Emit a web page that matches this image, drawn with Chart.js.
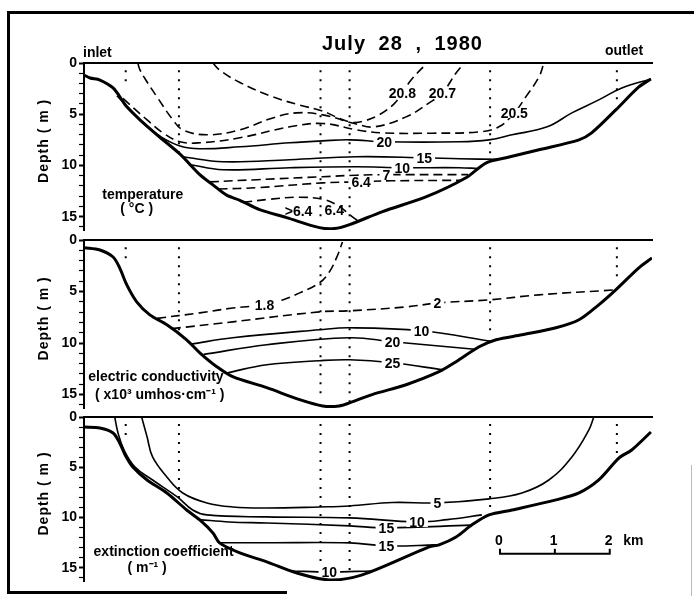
<!DOCTYPE html>
<html>
<head>
<meta charset="utf-8">
<script src="https://cdn.jsdelivr.net/npm/chart.js@4.4.1/dist/chart.umd.min.js"></script>
<style>
  html, body { margin: 0; padding: 0; background: #fff; }
  #wrap { position: relative; width: 694px; height: 596px; overflow: hidden; font-family: "Liberation Sans", Arial, sans-serif; }
  canvas { position: absolute; left: 0; top: 0; }
  .txt { position: absolute; font-weight: bold; color: #000; white-space: nowrap; }
  .frame { position: absolute; background: #000; }
</style>
</head>
<body>
<div id="wrap">
  <canvas id="tempChart" width="694" height="596"></canvas>
  <canvas id="condChart" width="694" height="596"></canvas>
  <canvas id="extChart" width="694" height="596"></canvas>

  <div class="frame" style="left:7px;top:11px;width:687px;height:3px"></div>
  <div class="frame" style="left:7px;top:11px;width:3px;height:583px"></div>
  <div class="frame" style="left:7px;top:591px;width:280px;height:3px"></div>
  <div class="frame" style="left:691px;top:465px;width:1px;height:131px;background:#bbb"></div>

  <div class="txt" style="left:322px;top:33px;font-size:20px;line-height:20px;letter-spacing:1px;word-spacing:6px">July 28 , 1980</div>
  <div class="txt" style="left:83px;top:45px;font-size:14px;line-height:14px">inlet</div>
  <div class="txt" style="left:605px;top:43px;font-size:14px;line-height:14px">outlet</div>
</div>

<script>
// x = distance from the inlet (km), y = depth (m)
const FONT = '"Liberation Sans", Arial, sans-serif';

// sampling stations (dotted verticals)
const stationKm = [0.76, 1.73, 4.31, 4.84, 7.40, 9.71];
const stationTop = 0.7;
const tempStationEnd = [2.2, 9.1, 15.0, 15.4, 9.3, 3.9];
const condStationEnd = [2.2, 8.9, 15.0, 15.8, 9.2, 4.2];
const extStationEnd = [2.0, 8.2, 14.5, 15.2, 9.2, 4.0];

// ---- temperature panel ----
const tempBottom = [[0,1.17],[0.11,1.46],[0.29,1.66],[0.53,2.43],[0.69,3.6],[0.78,4.28],[1.02,5.55],[1.33,7.01],[1.75,8.9],[2.11,10.9],[2.35,11.9],[2.6,12.9],[2.84,13.4],[3.2,14.31],[3.69,15.09],[4.29,16.07],[4.56,16.16],[4.84,15.77],[5.44,14.5],[6.24,13.05],[6.96,11.2],[7.33,9.74],[7.69,9.25],[8.29,8.47],[9.02,7.5],[9.25,6.82],[9.69,4.58],[10.11,2.34],[10.33,1.56]];
const t208 = [[2.35,0],[2.47,0.68],[2.84,1.9],[3.44,3.3],[3.93,4.1],[4.35,4.7],[4.65,5.4],[4.9,5.8],[5.11,5.65],[5.38,5.06],[5.65,3.99],[5.80,2.92],[5.96,1.66],[6.25,0]];
const t207 = [[0.98,0],[1.02,0.68],[1.15,1.85],[1.33,3.31],[1.62,5.55],[1.8,6.52],[2.24,7.01],[2.84,6.52],[3.44,5.36],[3.87,4.87],[4.35,5.06],[4.96,5.95],[5.29,6.23],[5.87,5.26],[6.29,3.89],[6.53,2.92],[6.78,0.97],[6.93,0]];
const t205 = [[0.53,2.5],[0.78,3.8],[1.15,5.55],[1.44,6.82],[1.75,7.69],[2.11,7.79],[2.84,7.3],[3.75,6.23],[4.35,5.9],[4.96,6.52],[5.44,6.82],[6.35,6.85],[7.2,6.72],[7.56,6.23],[7.84,4.87],[8.05,3.31],[8.29,1.36],[8.38,0]];
const t20 = [[0.6,3.2],[0.85,4.6],[1.1,6.0],[1.4,7.2],[1.75,8.1],[2.11,8.37],[2.84,8.18],[3.75,7.79],[4.35,7.6],[4.84,7.5],[5.47,7.69],[6.84,7.69],[7.38,7.5],[7.8,7.01],[8.44,6.23],[8.89,4.87],[9.38,3.6],[9.8,2.43],[10.33,1.56]];
const t15 = [[1.8,9.15],[2.53,9.64],[3.75,9.44],[4.96,9.15],[6.2,9.25],[6.84,9.35],[7.56,9.4]];
const t10 = [[1.92,9.9],[2.53,10.42],[3.75,10.22],[4.96,10.13],[5.8,10.22],[6.84,10.22],[7.18,10.3]];
const t7 = [[2.29,11.6],[3.15,11.39],[4.35,11.1],[4.96,10.95],[5.51,10.9],[7.0,10.9]];
const t64 = [[2.45,12.3],[3.15,12.17],[4.35,11.7],[4.96,11.6],[5.6,11.5],[6.88,11.45]];
const t64deep = [[2.9,13.6],[3.38,13.3],[3.93,13.1],[4.38,13.34],[4.65,14.0],[4.84,14.8],[5.0,15.45]];
const tempLabels = [['20.8',5.80,2.92,true],['20.7',6.53,2.92,true],['20.5',7.84,4.87,true],['20',5.47,7.69,true],['15',6.2,9.25,true],['10',5.8,10.22,true],['7',5.51,10.9,true],['6.4',5.05,11.6,true],['>6.4',3.91,14.5,false],['6.4',4.56,14.4,false]];
const tempCaptions = [['temperature',1.07,12.85],['( °C )',0.96,14.3]];

// ---- conductivity panel ----
const condBottom = [[0,0.75],[0.29,0.97],[0.53,1.65],[0.65,2.71],[0.78,4.36],[0.96,6.0],[1.2,7.26],[1.51,8.23],[1.87,9.68],[2.11,10.94],[2.42,12.29],[2.71,13.26],[3.33,14.33],[3.93,15.49],[4.35,16.1],[4.65,16.1],[4.84,15.8],[5.25,15.0],[5.87,14.04],[6.47,12.78],[6.78,11.81],[7.2,10.36],[7.51,9.68],[7.98,9.2],[8.6,8.52],[9.02,7.74],[9.38,6.29],[9.69,4.84],[10.11,2.71],[10.35,1.74]];
const c18 = [[1.33,7.6],[2.11,7.07],[2.71,6.6],[3.29,6.29],[3.62,5.81],[3.93,5.13],[4.29,4.16],[4.47,3.1],[4.6,1.74],[4.71,0.2]];
const c2 = [[1.6,8.6],[2.71,7.94],[4.29,6.97],[4.84,6.87],[5.87,6.49],[6.47,6.1],[7.38,5.81],[8.29,5.32],[9.69,4.84]];
const c10 = [[1.95,10.1],[2.71,9.49],[4.29,8.71],[4.84,8.52],[6.15,8.81],[7.45,9.85]];
const c20 = [[2.18,11.1],[3.33,10.16],[4.84,9.49],[5.62,9.87],[7.12,10.6]];
const c25 = [[2.6,12.9],[3.33,12.1],[4.29,11.71],[4.84,11.62],[5.62,11.91],[6.55,12.6]];
const condLabels = [['1.8',3.29,6.29,true],['2',6.44,6.1,true],['10',6.15,8.81,true],['20',5.62,9.87,true],['25',5.62,11.91,true]];
const condCaptions = [['electric conductivity',1.31,13.26],['( x10³ umhos·cm⁻¹ )',1.38,15.1]];

// ---- extinction panel ----
const extBottom = [[0,0.99],[0.29,1.09],[0.53,1.59],[0.65,2.58],[0.75,3.77],[0.89,4.97],[1.15,6.26],[1.51,7.55],[1.87,9.24],[2.11,10.23],[2.35,11.52],[2.47,12.51],[2.84,13.51],[3.33,14.4],[3.87,15.49],[4.47,16.19],[5.07,15.69],[6.29,12.91],[6.47,12.71],[6.78,11.92],[7.07,10.72],[7.38,9.73],[7.8,9.24],[8.6,8.24],[9.02,7.55],[9.38,6.26],[9.75,4.07],[9.98,3.28],[10.33,1.49]];
const e5 = [[1.05,0],[1.15,1.99],[1.25,3.97],[1.51,5.96],[1.8,7.55],[2.24,8.54],[2.71,8.94],[3.33,9.04],[4.29,8.94],[4.84,8.84],[5.62,8.5],[6.44,8.54],[7.38,8.14],[7.98,7.55],[8.47,6.26],[8.89,3.97],[9.2,1.29],[9.29,0]];
const e10 = [[0.56,0],[0.62,1.59],[0.73,3.28],[0.93,4.97],[1.25,6.26],[1.7,7.94],[1.98,9.24],[2.24,9.73],[3.33,9.93],[4.84,10.03],[6.07,10.43],[6.62,10.2],[7.25,9.73]];
const e15a = [[2.1,10.2],[2.65,10.43],[3.33,10.53],[4.84,10.82],[5.51,11.02],[7.05,10.75]];
const e15b = [[2.45,12.5],[3.33,12.5],[4.84,12.51],[5.51,12.81],[6.42,12.71]];
const e10deep = [[3.75,15.3],[4.47,15.4],[5.25,15.3]];
const extLabels = [['5',6.44,8.54,true],['10',6.07,10.43,true],['15',5.51,11.02,true],['15',5.51,12.81,true],['10',4.47,15.39,true]];
const extCaptions = [['extinction coefficient',1.45,13.4],['( m⁻¹ )',1.15,15.0]];

// scale bar (km)
const scaleBarKm = [0, 1, 2];
const scaleBarStart = 7.58;
const scaleBarDepth = 13.6;
const scaleTickDepth = 13.1;

function pts(arr) {
  return arr.map(p => ({ x: p[0], y: p[1] }));
}

function lakeBed(data) {
  return { data: pts(data), showLine: true, borderColor: '#000', borderWidth: 3, pointRadius: 0, tension: 0.3 };
}

function contour(data, dashed) {
  return { data: pts(data), showLine: true, borderColor: '#000', borderWidth: 1.6,
    borderDash: dashed ? [9, 5] : [], pointRadius: 0, tension: 0.4 };
}

function stations(ends) {
  return stationKm.map((x, i) => ({
    data: [{ x: x, y: stationTop }, { x: x, y: ends[i] }],
    showLine: true, borderColor: '#000', borderWidth: 2, borderDash: [2, 7],
    borderCapStyle: 'butt', pointRadius: 0, tension: 0
  }));
}

// contour labels, captions and the rotated depth title
const panelText = {
  id: 'panelText',
  afterDatasetsDraw(chart, args, opts) {
    const ctx = chart.ctx;
    const xs = chart.scales.x, ys = chart.scales.y;
    ctx.save();
    ctx.textAlign = 'center';
    ctx.textBaseline = 'middle';
    ctx.font = 'bold 14px ' + FONT;
    (opts.labels || []).forEach(l => {
      const px = xs.getPixelForValue(l[1]);
      const py = ys.getPixelForValue(l[2]);
      if (l[3]) {
        const w = ctx.measureText(l[0]).width + 6;
        ctx.fillStyle = '#fff';
        ctx.fillRect(px - w / 2, py - 5, w, 10);
      }
      ctx.fillStyle = '#000';
      ctx.fillText(l[0], px, py + 1);
    });
    (opts.captions || []).forEach(c => {
      ctx.fillStyle = '#000';
      ctx.fillText(c[0], xs.getPixelForValue(c[1]), ys.getPixelForValue(c[2]));
    });
    ctx.translate(44, ys.getPixelForValue(7.6));
    ctx.rotate(-Math.PI / 2);
    ctx.letterSpacing = '1px';
    ctx.fillText('Depth ( m )', 0, 0);
    ctx.restore();
  }
};

function depthScales() {
  return {
    x: {
      type: 'linear', position: 'top', min: 0, max: 10.35,
      ticks: { display: false },
      grid: { display: false },
      border: { display: true, color: '#000', width: 2 },
      afterFit(s) { s.height = 0; s.paddingLeft = 0; s.paddingRight = 0; }
    },
    y: {
      type: 'linear', position: 'left', reverse: true, min: 0, max: 16.3,
      ticks: {
        stepSize: 1, includeBounds: false, autoSkip: false, padding: 2, color: '#000',
        font: { family: FONT, size: 14, weight: 'bold' },
        callback: v => (v % 5 === 0 ? String(v) : '')
      },
      grid: {
        drawOnChartArea: false, drawTicks: true, tickLength: 5, tickColor: '#000',
        tickWidth: c => (c.tick && c.tick.value % 5 === 0 ? 2 : 1.2)
      },
      border: { display: true, color: '#000', width: 2 },
      afterFit(s) { s.width = 84; s.paddingTop = 0; s.paddingBottom = 0; }
    }
  };
}

function makeChart(id, top, bottom, datasets, labels, captions) {
  return new Chart(document.getElementById(id), {
    type: 'scatter',
    data: { datasets: datasets },
    options: {
      responsive: false,
      animation: false,
      devicePixelRatio: 1,
      events: [],
      layout: { padding: { left: 0, right: 42, top: top, bottom: 596 - bottom } },
      plugins: {
        legend: { display: false },
        tooltip: { enabled: false },
        panelText: { labels: labels, captions: captions }
      },
      scales: depthScales()
    },
    plugins: [panelText]
  });
}

const tempSets = [lakeBed(tempBottom),
  contour(t208, true), contour(t207, true), contour(t205, true), contour(t20, false),
  contour(t15, false), contour(t10, false), contour(t7, true), contour(t64, true), contour(t64deep, true)
].concat(stations(tempStationEnd));

const condSets = [lakeBed(condBottom),
  contour(c18, true), contour(c2, true), contour(c10, false), contour(c20, false), contour(c25, false)
].concat(stations(condStationEnd));

const scaleEnds = [scaleBarKm[0], scaleBarKm[scaleBarKm.length - 1]].map(k => scaleBarStart + k);
const scaleBar = {
  data: [{ x: scaleEnds[0], y: scaleTickDepth }, { x: scaleEnds[0], y: scaleBarDepth },
         { x: scaleEnds[1], y: scaleBarDepth }, { x: scaleEnds[1], y: scaleTickDepth }],
  showLine: true, borderColor: '#000', borderWidth: 2, pointRadius: 0, tension: 0
};
const scaleMid = scaleBarKm.slice(1, -1).map(k => ({
  data: [{ x: scaleBarStart + k, y: scaleBarDepth }, { x: scaleBarStart + k, y: scaleTickDepth }],
  showLine: true, borderColor: '#000', borderWidth: 2, pointRadius: 0, tension: 0
}));
const scaleLabels = scaleBarKm.map(k => [String(k), scaleBarStart + k - 0.02, 12.25, false])
  .concat([['km', 10.01, 12.25, false]]);

const extSets = [lakeBed(extBottom),
  contour(e5, false), contour(e10, false), contour(e15a, false), contour(e15b, false), contour(e10deep, false),
  scaleBar
].concat(scaleMid).concat(stations(extStationEnd));

makeChart('tempChart', 63, 230, tempSets, tempLabels, tempCaptions);
makeChart('condChart', 240, 408, condSets, condLabels, condCaptions);
makeChart('extChart', 417, 581, extSets, extLabels.concat(scaleLabels), extCaptions);
</script>
</body>
</html>
